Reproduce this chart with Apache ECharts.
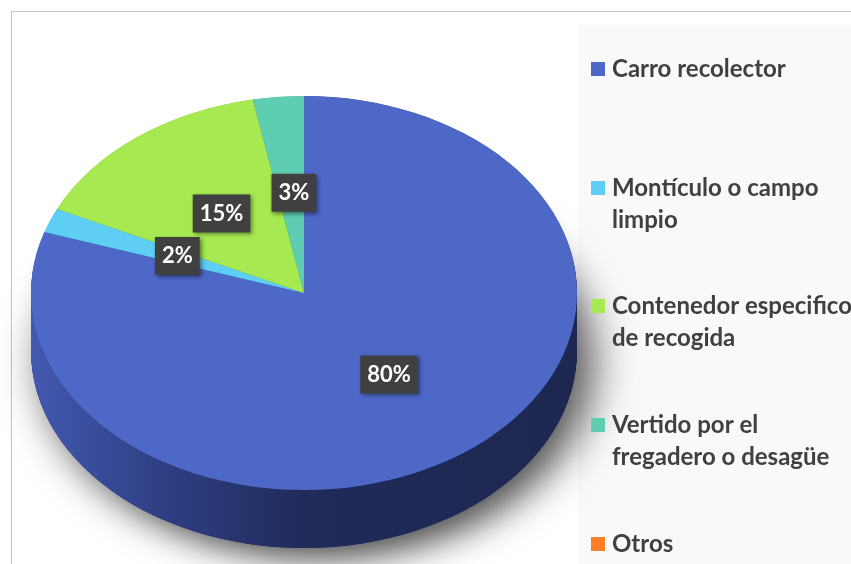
<!DOCTYPE html>
<html><head><meta charset="utf-8">
<script src="https://cdn.jsdelivr.net/npm/echarts@6.0.0/dist/echarts.min.js"></script>
<style>
html,body{margin:0;padding:0;background:#fff;}
#stage{position:relative;width:851px;height:564px;overflow:hidden;background:#fff;}
#frame{position:absolute;left:11px;top:11px;width:900px;height:600px;border:1px solid #c3c3c3;box-sizing:border-box;}
#legbg{position:absolute;left:578px;top:25px;right:0;bottom:0;background:#f9f9f9;}
#pie{position:absolute;left:0;top:0;width:851px;height:782px;transform-origin:0 0;}
#top{position:absolute;left:0;top:0;width:851px;height:564px;}
</style></head>
<body><div id="stage"><div id="frame"></div><div id="legbg"></div><div id="pie"></div><div id="top"></div></div>
<script>
// ---- data ----
const categories = ['Carro recolector', 'Montículo o campo limpio', 'Contenedor especifico de recogida', 'Vertido por el fregadero o desagüe', 'Otros'];
const legendLabels = ['Carro recolector', 'Montículo o campo\nlimpio', 'Contenedor especifico\nde recogida', 'Vertido por el\nfregadero o desagüe', 'Otros'];
const values = [80, 2, 15, 3, 0];
const colors = ['#4e68c8', '#5ecef5', '#a6e950', '#5fcdb1', '#fd7e23'];
const sideColors = ['#1f2a56', '#2a6f88', '#5a8a2a', '#2f7a66', '#8a4410'];

// ---- geometry (layout only) ----
const CX = 304, CY = 293, R = 273, RY = 197, DEPTH = 58;
const K = RY / R;
document.getElementById('pie').style.height = Math.ceil(564 / K) + 'px';
document.getElementById('pie').style.transform = 'scaleY(' + K + ')';
const cyDiv = CY / K, depthDiv = DEPTH / K;

const blueSide = {
  type: 'linear', x: 0, y: 0, x2: 1, y2: 0,
  colorStops: [
    { offset: 0, color: '#4259b0' },
    { offset: 0.25, color: '#2e3e82' },
    { offset: 0.5, color: '#202b5a' },
    { offset: 1, color: '#1d2750' }
  ]
};

function pieLayer(centerY, colorFn, extraStyle) {
  return {
    type: 'pie', silent: true, animation: false,
    center: [CX, centerY], radius: R, startAngle: 90, clockwise: true,
    label: { show: false }, labelLine: { show: false },
    emphasis: { disabled: true },
    data: categories.map((n, i) => ({
      name: n, value: values[i],
      itemStyle: Object.assign({ color: colorFn(i), borderWidth: 0 }, extraStyle || {})
    }))
  };
}

const pieSeries = [];
pieSeries.push(pieLayer(cyDiv + depthDiv, i => i === 0 ? '#1d2750' : sideColors[i], {
  shadowBlur: 45, shadowColor: 'rgba(0,0,0,0.7)', shadowOffsetX: 14, shadowOffsetY: 16
}));
for (let y = cyDiv + depthDiv; y > cyDiv; y -= 2) {
  pieSeries.push(pieLayer(y, i => i === 0 ? blueSide : sideColors[i]));
}
pieSeries.push(pieLayer(cyDiv, i => colors[i]));

const chartPie = echarts.init(document.getElementById('pie'), null, { renderer: 'svg' });
chartPie.setOption({ animation: false, series: pieSeries });

// ---- labels + legend (unscaled) ----
const legendRowY = [69, 188, 306, 425, 544];
const FS = 24, LH = 32;
const tallIcon = 'path://M0,0L14,0L14,14L0,14Z M0,' + (LH * 2 - 18);

const legends = categories.map((n, i) => {
  const twoLines = legendLabels[i].indexOf('\n') >= 0;
  return {
    orient: 'vertical', left: 591, top: legendRowY[i] - LH / 2, padding: 0,
    itemWidth: 14, itemHeight: twoLines ? (LH * 2 - 18) : 14,
    selectedMode: false,
    icon: twoLines ? tallIcon : 'rect',
    textStyle: { fontFamily: 'Lato', fontWeight: 'bold', fontSize: FS, color: '#404040', lineHeight: LH, padding: [0, 0, 0, 2] },
    formatter: name => legendLabels[categories.indexOf(name)],
    data: [{ name: n, itemStyle: { color: colors[i] } }]
  };
});

const chartTop = echarts.init(document.getElementById('top'));
chartTop.setOption({
  animation: false,
  legend: legends,
  series: [{
    type: 'pie', silent: true,
    center: [CX, CY], radius: R, startAngle: 90, clockwise: true,
    itemStyle: { color: 'rgba(0,0,0,0)' },
    emphasis: { disabled: true },
    labelLine: { show: false },
    label: {
      show: true, position: 'inside',
      formatter: p => p.value + '%',
      fontFamily: 'Lato', fontWeight: 'bold', fontSize: 22, lineHeight: 24, color: '#ffffff',
      backgroundColor: '#404040', padding: [7, 7, 7, 7],
      shadowColor: 'rgba(0,0,0,0.45)', shadowBlur: 4, shadowOffsetX: 2, shadowOffsetY: 2
    },
    labelLayout: function (p) {
      const r = p.labelRect;
      const cx = r.x + r.width / 2, cy = r.y + r.height / 2;
      return { x: cx + 3, y: CY + (cy - CY) * K, align: 'center', verticalAlign: 'middle' };
    },
    data: categories.map((n, i) => ({
      name: n, value: values[i],
      label: values[i] === 0 ? { show: false } : undefined
    }))
  }]
});
</script>
</body></html>
